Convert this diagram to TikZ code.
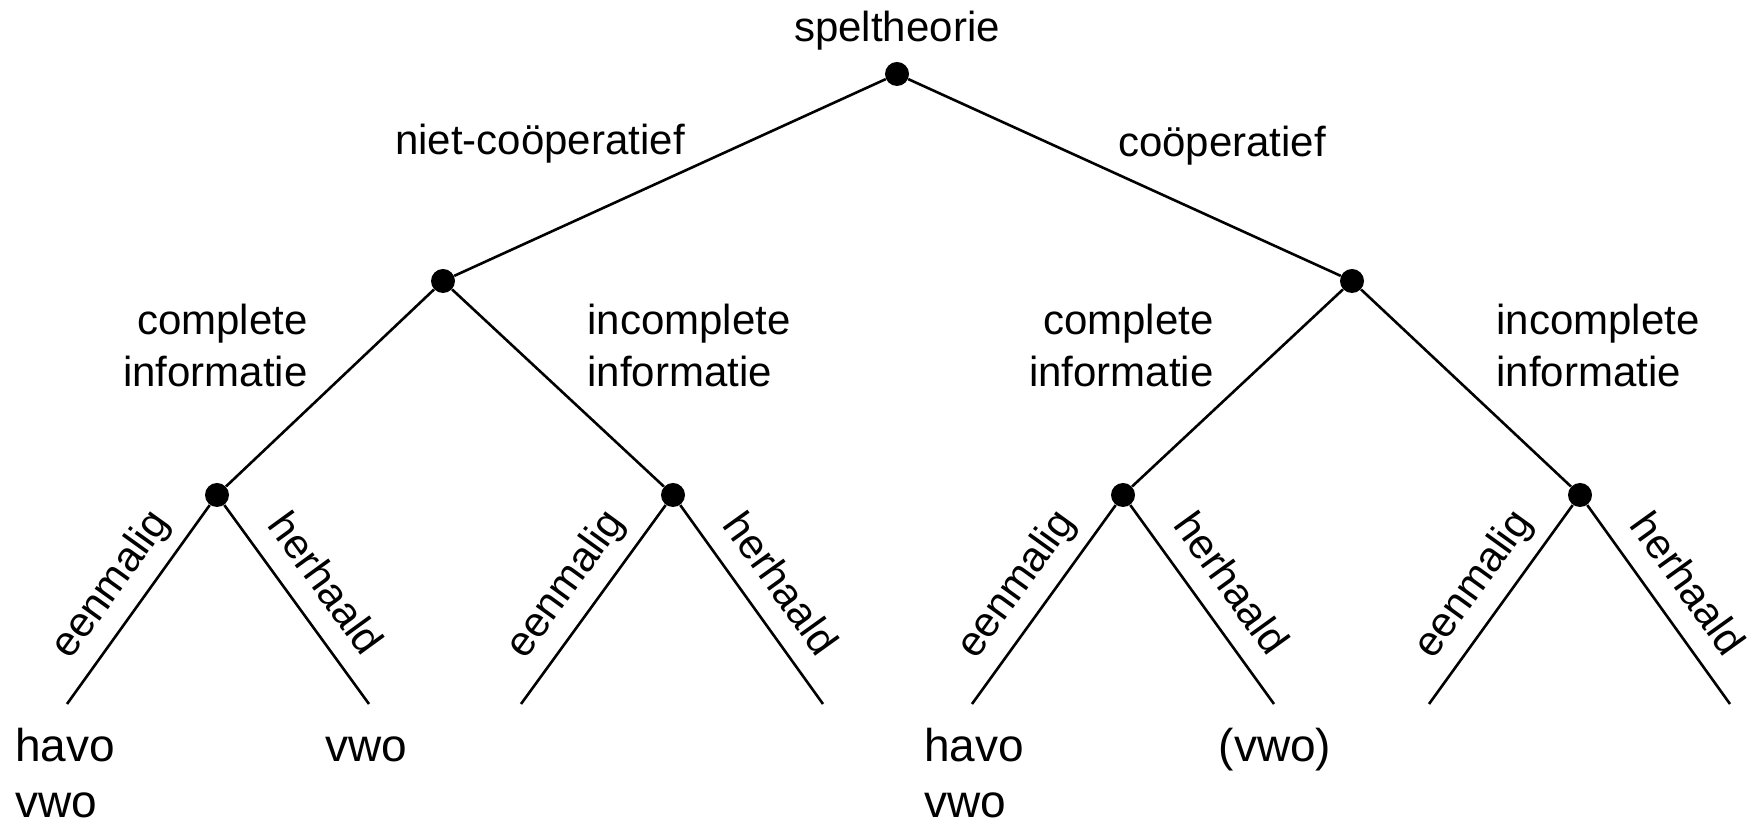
\documentclass[tikz,border=0pt]{standalone}
\usepackage{fontspec}
\setmainfont{Liberation Sans}
\begin{document}
\begin{tikzpicture}[x=0.5pt,y=-0.5pt,
  dot/.style={circle,fill=black,inner sep=0pt,minimum size=12pt},
  edge/.style={line width=1.3pt},
  lbl/.style={font=\fontsize{21}{26}\selectfont,inner sep=0pt},
  leaflbl/.style={font=\fontsize{23}{28}\selectfont,inner sep=0pt,align=left,anchor=base},
  slopelbl/.style={font=\fontsize{21}{26}\selectfont,midway,sloped,above=4.5pt,text height=0.75em,text depth=0.25em}]
\useasboundingbox (0,0) rectangle (1758,822);
% tree nodes
\node[dot] (r) at (897,74) {};
\node[dot] (a) at (443,281) {};
\node[dot] (b) at (1352,281) {};
\node[dot] (a1) at (217,495) {};
\node[dot] (a2) at (673,495) {};
\node[dot] (b1) at (1123,495) {};
\node[dot] (b2) at (1580,495) {};
\coordinate (l1) at (67,704);
\coordinate (l2) at (369,704);
\coordinate (l3) at (521,704);
\coordinate (l4) at (823,704);
\coordinate (l5) at (972,704);
\coordinate (l6) at (1274,704);
\coordinate (l7) at (1429,704);
\coordinate (l8) at (1730,704);
% edges
\draw[edge] (r) -- (a);
\draw[edge] (r) -- (b);
\draw[edge] (a) -- (a1);
\draw[edge] (a) -- (a2);
\draw[edge] (b) -- (b1);
\draw[edge] (b) -- (b2);
\draw[edge] (a1) -- node[slopelbl]{eenmalig} (l1);
\draw[edge] (a1) -- node[slopelbl]{herhaald} (l2);
\draw[edge] (a2) -- node[slopelbl]{eenmalig} (l3);
\draw[edge] (a2) -- node[slopelbl]{herhaald} (l4);
\draw[edge] (b1) -- node[slopelbl]{eenmalig} (l5);
\draw[edge] (b1) -- node[slopelbl]{herhaald} (l6);
\draw[edge] (b2) -- node[slopelbl]{eenmalig} (l7);
\draw[edge] (b2) -- node[slopelbl]{herhaald} (l8);
% labels
\node[lbl,anchor=base] (t0) at (897,42) {speltheorie};
\node[lbl,anchor=base] (t1) at (540,155) {niet-coöperatief};
\node[lbl,anchor=base] (t2) at (1222,157) {coöperatief};
\node[lbl,anchor=base east,align=right] (t3) at (308,387) {complete\\informatie};
\node[lbl,anchor=base west,align=left] (t4) at (587,387) {incomplete\\informatie};
\node[lbl,anchor=base east,align=right] (t5) at (1214,387) {complete\\informatie};
\node[lbl,anchor=base west,align=left] (t6) at (1496,387) {incomplete\\informatie};
\node[leaflbl] (h1) at (65,818) {havo\\vwo};
\node[leaflbl] (h2) at (366,762) {vwo};
\node[leaflbl] (h3) at (974,818) {havo\\vwo};
\node[leaflbl] (h4) at (1275,762) {(vwo)};
\end{tikzpicture}
\end{document}
